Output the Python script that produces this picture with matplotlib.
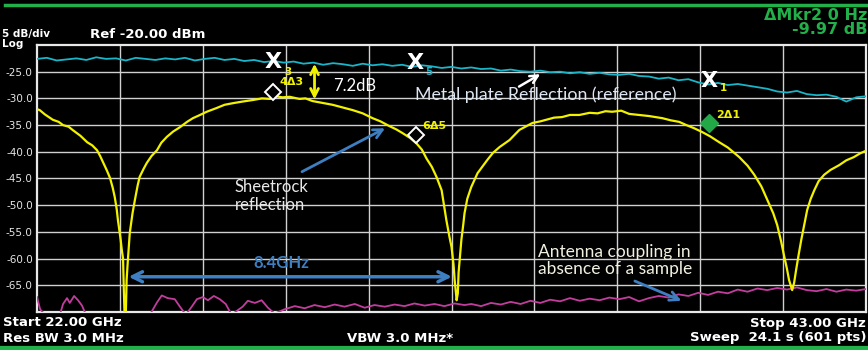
import numpy as np
import matplotlib.pyplot as plt

# sweep 22 - 43 GHz, 5 dB/div, ref -20 dBm
x_min, x_max = 22.0, 43.0
y_ticks = [-25, -30, -35, -40, -45, -50, -55, -60, -65]

# metal plate reflection (reference), cyan trace
cyan_db = [-22.6, -22.4, -22.9, -22.7, -22.5, -22.8, -22.3, -22.6, -22.5, -22.9,
           -22.4, -22.6, -22.8, -22.5, -22.7, -22.4, -22.9, -22.6, -22.4, -22.8,
           -22.6, -23.0, -22.8, -23.2, -23.0, -23.3, -23.1, -23.5, -23.3, -23.7,
           -23.4, -23.6, -23.9, -23.5, -23.8, -23.6, -23.9, -23.7, -24.1, -23.8,
           -24.0, -24.3, -24.1, -24.4, -24.2, -24.5, -24.4, -24.8, -24.6, -24.9,
           -25.0, -24.8, -25.1, -25.0, -25.3, -25.1, -25.4, -25.2, -25.5, -25.6,
           -25.4, -25.8, -25.9, -26.3, -26.1, -26.6, -26.4, -27.0, -27.4, -27.1,
           -27.5, -27.3, -27.6, -27.9, -28.2, -28.7, -28.9, -28.6, -29.2, -29.4,
           -29.3, -29.7, -30.6, -29.8, -29.6]
cyan_ghz = np.linspace(x_min, x_max, len(cyan_db))

# sheetrock reflection, yellow trace
yellow_ghz = [22.0, 22.07, 22.2, 22.4, 22.55, 22.66, 22.8, 22.9, 23.1, 23.27,
              23.4, 23.52, 23.6, 23.67, 23.77, 23.85, 23.92, 23.97, 24.02, 24.05,
              24.1, 24.12, 24.15, 24.18, 24.2, 24.22, 24.25, 24.27, 24.3, 24.35,
              24.42, 24.48, 24.55, 24.6, 24.7, 24.78, 24.9, 25.04, 25.15, 25.29,
              25.45, 25.62, 25.8, 25.95, 26.1, 26.3, 26.55, 26.75, 26.96, 27.2,
              27.47, 27.7, 27.9, 28.05, 28.22, 28.4, 28.65, 28.8, 28.98, 29.2,
              29.49, 29.75, 30.0, 30.25, 30.5, 30.7, 30.93, 31.1, 31.26, 31.45,
              31.61, 31.75, 31.87, 32.0, 32.12, 32.25, 32.37, 32.45, 32.5, 32.55,
              32.58, 32.63, 32.66, 32.68, 32.72, 32.75, 32.8, 32.83, 32.9, 33.0,
              33.16, 33.3, 33.41, 33.55, 33.72, 33.97, 34.22, 34.4, 34.55, 34.75,
              34.9, 35.1, 35.3, 35.5, 35.74, 36.0, 36.2, 36.4, 36.57, 36.8,
              37.0, 37.26, 37.5, 37.84, 38.05, 38.27, 38.45, 38.65, 38.85, 39.05,
              39.28, 39.5, 39.79, 40.0, 40.17, 40.35, 40.5, 40.65, 40.75, 40.85,
              40.92, 41.0, 41.05, 41.13, 41.18, 41.23, 41.3, 41.36, 41.45, 41.51,
              41.6, 41.69, 41.8, 41.94, 42.1, 42.32, 42.5, 42.69, 42.85, 43.0]
yellow_db = [-32.0, -32.2, -33.0, -34.0, -34.4, -35.0, -35.3, -35.9, -37.0, -38.2,
             -38.8, -39.7, -40.8, -41.9, -43.5, -44.9, -46.8, -48.5, -50.8, -52.8,
             -55.5, -56.5, -58.5, -60.0, -66.0, -71.0, -70.5, -64.0, -60.5, -55.2,
             -51.5, -49.0, -46.3, -44.7, -43.2, -42.1, -40.8, -39.7, -38.3, -37.2,
             -36.2, -35.4, -34.4, -33.7, -33.2, -32.5, -31.8, -31.2, -30.9, -30.6,
             -30.3, -30.0, -30.1, -29.6, -29.8, -29.7, -30.1, -30.0, -30.5, -30.8,
             -31.2, -31.7, -32.2, -32.8, -33.7, -34.3, -35.2, -35.8, -36.5, -37.4,
             -38.4, -39.6, -41.3, -42.8, -44.7, -47.2, -52.8, -56.0, -57.8, -61.0,
             -64.0, -67.8, -66.5, -62.6, -59.0, -56.5, -53.5, -51.5, -48.8, -46.6,
             -44.0, -42.6, -41.5, -40.2, -39.1, -37.8, -35.9, -35.2, -34.6, -34.3,
             -34.0, -33.6, -33.5, -33.1, -33.1, -32.7, -32.8, -32.4, -32.5, -32.3,
             -32.9, -33.1, -33.3, -33.7, -34.1, -34.4, -35.0, -35.6, -36.3, -37.1,
             -38.2, -39.2, -41.0, -42.6, -44.3, -46.5, -49.0, -51.5, -53.7, -56.8,
             -59.3, -62.0, -64.0, -65.9, -64.5, -62.1, -59.0, -56.5, -53.2, -50.9,
             -48.8, -47.2, -45.5, -44.3, -43.4, -42.5, -41.6, -41.0, -40.3, -39.8]

# antenna coupling without sample, magenta trace
magenta_ghz = [22.0, 22.08, 22.2, 22.58, 22.66, 22.76, 22.83, 22.94, 23.04, 23.14,
               23.24, 24.86, 25.04, 25.16, 25.31, 25.49, 25.62, 25.77, 25.92, 26.05,
               26.2, 26.33, 26.48, 26.63, 26.78, 26.93, 27.21, 27.34, 27.52, 27.69,
               27.85, 28.02, 28.27, 28.53, 28.78, 29.03, 29.29, 29.54, 29.79, 30.05,
               30.3, 30.55, 30.81, 31.06, 31.31, 31.56, 31.82, 32.07, 32.32, 32.58,
               32.83, 33.0, 33.25, 33.5, 33.75, 34.0, 34.25, 34.5, 34.75, 35.0,
               35.25, 35.5, 35.75, 36.0, 36.25, 36.5, 36.75, 37.0, 37.25, 37.5,
               37.75, 38.0, 38.25, 38.5, 38.75, 39.0, 39.25, 39.5, 39.75, 40.0,
               40.25, 40.5, 40.75, 41.0, 41.25, 41.5, 41.75, 42.0, 42.25, 42.5,
               42.75, 43.0]
magenta_db = [-67.2, -69.5, -70.5, -70.5, -68.5, -67.4, -68.3, -67.0, -67.8, -68.8,
              -70.5, -70.5, -68.2, -66.9, -67.4, -67.6, -69.0, -70.5, -69.0, -67.6,
              -67.2, -67.8, -67.0, -67.6, -68.5, -70.5, -69.0, -67.9, -68.3, -67.8,
              -69.2, -70.3, -69.5, -68.9, -69.3, -68.7, -69.1, -68.6, -69.0, -68.5,
              -69.2, -68.7, -69.0, -68.6, -68.9, -68.4, -68.8, -68.5, -68.9, -68.4,
              -68.7, -68.5, -68.9, -68.3, -68.6, -68.1, -68.5, -67.9, -68.3, -67.7,
              -68.0, -67.4, -67.9, -67.5, -67.8, -67.3, -67.6, -67.2, -68.0, -67.4,
              -67.0, -67.3, -66.7, -67.0, -66.4, -66.8, -66.2, -66.5, -65.8, -66.2,
              -65.6, -65.9, -65.5, -65.8, -65.4, -65.9, -66.1, -65.7, -66.2, -65.8,
              -66.0, -65.7]

W, H = 868, 350
fig = plt.figure(figsize=(W / 100, H / 100), dpi=100, facecolor='black')
ax = fig.add_axes([37 / W, 38 / H, 829 / W, 267 / H], facecolor='black')

ax.plot(cyan_ghz, cyan_db, color='#19b5c8', lw=1.3, zorder=3)
ax.plot(yellow_ghz, yellow_db, color='#f2f200', lw=1.6, zorder=4)
ax.plot(magenta_ghz, magenta_db, color='#c23d9e', lw=1.3, zorder=3)

ax.set_xlim(x_min, x_max)
ax.set_ylim(-70, -20)
ax.set_xticks(np.linspace(x_min, x_max, 11)[1:-1])
ax.set_xticklabels([])
ax.set_yticks(y_ticks)
ax.set_yticklabels([f'{v:.1f}' for v in y_ticks], color='#e6e6e6', fontsize=7.5)
ax.tick_params(length=0, pad=3)
ax.grid(True, color='#d0d0d0', lw=1.0)
for s in ax.spines.values():
    s.set_color('#e8e8e8')
    s.set_linewidth(1.6)

# markers
ax.text(27.99, -23.2, 'X', color='white', fontsize=16, fontweight='bold', ha='center', va='center', zorder=6)
ax.text(28.36, -25.0, '3', color='#f2f200', fontsize=7.5, fontweight='bold', ha='center', va='center', zorder=6)
ax.text(31.59, -23.4, 'X', color='white', fontsize=16, fontweight='bold', ha='center', va='center', zorder=6)
ax.text(31.92, -25.1, '5', color='#19b5c8', fontsize=7.5, fontweight='bold', ha='center', va='center', zorder=6)
ax.text(39.03, -26.7, 'X', color='white', fontsize=16, fontweight='bold', ha='center', va='center', zorder=6)
ax.text(39.38, -28.0, '1', color='#f2f200', fontsize=7.5, fontweight='bold', ha='center', va='center', zorder=6)

ax.plot([27.99], [-28.8], marker='D', ms=8, mfc='black', mec='white', mew=1.4, zorder=6)
ax.plot([31.61], [-36.9], marker='D', ms=8, mfc='black', mec='white', mew=1.4, zorder=6)
ax.plot([39.03], [-34.6], marker='D', ms=9, mfc='#22a846', mec='#22a846', zorder=6)
ax.text(28.15, -26.9, '4Δ3', color='#f2f200', fontsize=8, fontweight='bold', va='center', zorder=6)
ax.text(31.76, -35.2, '6Δ5', color='#f2f200', fontsize=8, fontweight='bold', va='center', zorder=6)
ax.text(39.2, -33.1, '2Δ1', color='#f2f200', fontsize=8, fontweight='bold', va='center', zorder=6)

# 7.2 dB difference
ax.annotate('', xy=(29.03, -23.0), xytext=(29.03, -30.7),
            arrowprops=dict(arrowstyle='<->', color='#f2f200', lw=2, mutation_scale=14), zorder=6)
ax.text(29.5, -27.7, '7.2dB', color='white', fontsize=12, family='Lato', va='center', zorder=6)

# annotations
ax.text(31.57, -29.4, 'Metal plate Reflection (reference)', color='#dce6f2', fontsize=12.8,
        family='Lato', va='center', zorder=6)
ax.annotate('', xy=(34.81, -25.2), xytext=(34.15, -28.05),
            arrowprops=dict(arrowstyle='->', color='white', lw=1.8, mutation_scale=14), zorder=6)

ax.text(27.01, -48.3, 'Sheetrock\nreflection', color='#e8e8e8', fontsize=12, family='Lato',
        va='center', linespacing=1.1, zorder=6)
ax.annotate('', xy=(30.88, -35.35), xytext=(28.65, -43.97),
            arrowprops=dict(arrowstyle='->', color='#3e7fc1', lw=2, mutation_scale=16), zorder=6)

ax.text(28.2, -60.8, '8.4GHz', color='#3e7fc1', fontsize=12, fontweight='bold', family='Lato',
        ha='center', va='center', zorder=6)
ax.annotate('', xy=(24.25, -63.4), xytext=(32.58, -63.4),
            arrowprops=dict(arrowstyle='<->', color='#3e7fc1', lw=2.5, mutation_scale=18), zorder=6)

ax.text(34.68, -60.4, 'Antenna coupling in\nabsence of a sample', color='#f2f0e0', fontsize=12.5,
        family='Lato', va='center', linespacing=1.1, zorder=6)
ax.annotate('', xy=(38.39, -68.1), xytext=(37.08, -64.0),
            arrowprops=dict(arrowstyle='->', color='#3e7fc1', lw=2, mutation_scale=16), zorder=6)

# instrument header / footer
def ftext(px, py, s, **kw):
    fig.text(px / W, 1 - py / H, s, **kw)

green = '#22b04a'
fig.add_artist(plt.Line2D([5 / W, 1], [1 - 5 / H, 1 - 5 / H], color=green, lw=2.5))
fig.add_artist(plt.Line2D([0, 1], [1 - 348 / H, 1 - 348 / H], color=green, lw=3))

ftext(2, 33.5, '5 dB/div', color='white', fontsize=7.5, fontweight='bold', va='center')
ftext(2, 44, 'Log', color='white', fontsize=7.5, fontweight='bold', va='center')
ftext(90, 35, 'Ref -20.00 dBm', color='white', fontsize=9.5, fontweight='bold', va='center')
ftext(867, 15, 'ΔMkr2 0 Hz', color=green, fontsize=11.5, fontweight='bold', ha='right', va='center')
ftext(867, 29, '-9.97 dB', color=green, fontsize=11.5, fontweight='bold', ha='right', va='center')

ftext(3, 323, 'Start 22.00 GHz', color='white', fontsize=9.5, fontweight='bold', va='center')
ftext(3, 338, 'Res BW 3.0 MHz', color='white', fontsize=9.5, fontweight='bold', va='center')
ftext(400, 338, 'VBW 3.0 MHz*', color='white', fontsize=9.5, fontweight='bold', ha='center', va='center')
ftext(866, 323, 'Stop 43.00 GHz', color='white', fontsize=9.5, fontweight='bold', ha='right', va='center')
ftext(866, 338, 'Sweep  24.1 s (601 pts)', color='white', fontsize=9.5, fontweight='bold', ha='right', va='center')

fig.savefig('out.png', dpi=100, facecolor='black')
